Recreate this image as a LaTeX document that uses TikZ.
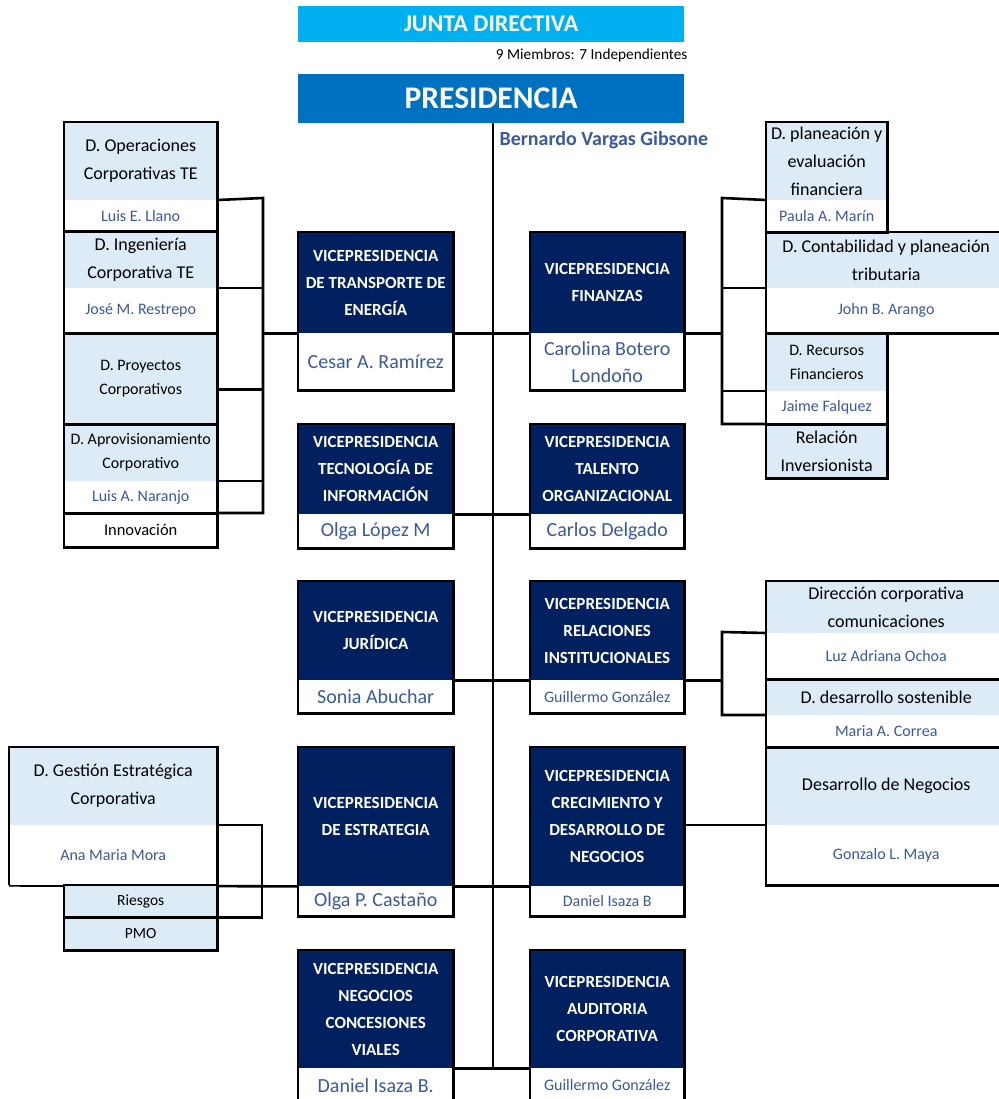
\documentclass[tikz,border=0pt]{standalone}
\usepackage{fontspec}
\setmainfont{Carlito}
\usetikzlibrary{calc,backgrounds}
\definecolor{navy}{RGB}{0,32,96}
\definecolor{juntac}{RGB}{0,176,240}
\definecolor{presc}{RGB}{0,112,192}
\definecolor{lightc}{RGB}{221,235,247}
\definecolor{namec}{RGB}{59,89,160}
\newcommand\fs[2]{\fontsize{#1}{#2}\selectfont}
\newcommand\cell[6]{\node[#1,anchor=north west,inner sep=0pt,minimum width=#4pt,minimum height=#5pt,align=center] (#2) at (#3) {#6};}
\tikzset{
  vpt/.style={fill=navy,text=white,font=\bfseries\fs{17}{27}},
  vpn/.style={fill=white,text=namec,font=\fs{20}{27}},
  vpns/.style={fill=white,text=namec,font=\fs{16}{20}},
  subt/.style={fill=lightc,text=black,font=\fs{18}{28}},
  subts/.style={fill=lightc,text=black,font=\fs{16}{24}},
  subn/.style={fill=white,text=namec,font=\fs{16}{20}},
  smallbox/.style={fill=lightc,text=black,font=\fs{15.5}{18}},
  bord/.style={draw=black,line width=2.6pt},
  conn/.style={draw=black,line width=2.6pt},
}
\begin{document}
\begin{tikzpicture}[x=1pt,y=-1pt]
\useasboundingbox (0,0) rectangle (998,1099);
% top
\cell{fill=juntac,text=white,font=\bfseries\fs{24}{26}}{junta}{298,6}{386}{36}{JUNTA DIRECTIVA}
\node[anchor=east,font=\fs{15.3}{17}] (miem) at (691,55) {9 Miembros: 7 Independientes};
\cell{fill=presc,text=white,font=\bfseries\fs{31.5}{33}}{pres}{298,74}{386}{49}{PRESIDENCIA}
\node[anchor=west,font=\bfseries\fs{20}{22},text=namec] (bv) at (496,140) {Bernardo Vargas Gibsone};
\coordinate (ctop) at (493,123);
\coordinate (cbot) at (493,1068);
% left sub boxes (transporte)
\cell{subt}{opT}{64,122}{153}{78}{D. Operaciones\\Corporativas TE}
\cell{subn}{opN}{64,200}{153}{31}{Luis E. Llano}
\cell{subt}{inT}{64,231}{153}{57}{D. Ingeniería\\Corporativa TE}
\cell{subn}{inN}{64,288}{153}{45}{José M. Restrepo}
\cell{subts}{prT}{64,333}{153}{91}{D. Proyectos\\Corporativos}
\cell{subts}{apT}{64,424}{153}{57}{D. Aprovisionamiento\\Corporativo}
\cell{subn}{apN}{64,481}{153}{32}{Luis A. Naranjo}
\cell{fill=white,font=\fs{16.5}{20}}{inv}{64,513}{153}{34}{Innovación}
% VP boxes
\cell{vpt}{vtT}{298,232}{155}{101}{VICEPRESIDENCIA\\DE TRANSPORTE DE\\ENERGÍA}
\cell{vpn}{vtN}{298,333}{155}{57}{Cesar A. Ramírez}
\cell{vpt}{vfT}{530,232}{154}{101}{VICEPRESIDENCIA\\FINANZAS}
\cell{vpn}{vfN}{530,333}{154}{57}{Carolina Botero\\Londoño}
\cell{vpt}{viT}{298,424}{155}{90}{VICEPRESIDENCIA\\TECNOLOGÍA DE\\INFORMACIÓN}
\cell{vpn}{viN}{298,514}{155}{34}{Olga López M}
\cell{vpt}{vgT}{530,424}{154}{90}{VICEPRESIDENCIA\\TALENTO\\ORGANIZACIONAL}
\cell{vpn}{vgN}{530,514}{154}{34}{Carlos Delgado}
\cell{vpt}{vjT}{298,581}{155}{99}{VICEPRESIDENCIA\\JURÍDICA}
\cell{vpn}{vjN}{298,680}{155}{33}{Sonia Abuchar}
\cell{vpt}{vrT}{530,581}{154}{99}{VICEPRESIDENCIA\\RELACIONES\\INSTITUCIONALES}
\cell{vpns}{vrN}{530,680}{154}{33}{Guillermo González}
\cell{vpt}{veT}{298,747}{155}{139}{VICEPRESIDENCIA\\DE ESTRATEGIA}
\cell{vpn}{veN}{298,886}{155}{30}{Olga P. Castaño}
\cell{vpt}{vcT}{530,747}{154}{139}{VICEPRESIDENCIA\\CRECIMIENTO Y\\DESARROLLO DE\\NEGOCIOS}
\cell{vpns}{vcN}{530,886}{154}{30}{Daniel Isaza B}
\cell{vpt}{vnT}{298,950}{155}{118}{VICEPRESIDENCIA\\NEGOCIOS\\CONCESIONES\\VIALES}
\cell{vpn}{vnN}{298,1068}{155}{40}{\raisebox{5pt}{Daniel Isaza B.}}
\cell{vpt}{vaT}{530,950}{154}{118}{VICEPRESIDENCIA\\AUDITORIA\\CORPORATIVA}
\cell{vpns}{vaN}{530,1068}{154}{40}{\raisebox{7pt}{Guillermo González}}
% right sub boxes (finanzas)
\cell{subt}{plT}{766,122}{121}{78}{D. planeación y\\evaluación\\financiera}
\cell{subn}{plN}{766,200}{121}{32}{Paula A. Marín}
\cell{subt}{coT}{766,232}{240}{56}{D. Contabilidad y planeación\\tributaria}
\cell{subn}{coN}{766,288}{240}{45}{John B. Arango}
\cell{subts}{reT}{766,333}{121}{58}{D. Recursos\\Financieros}
\cell{subn}{reN}{766,391}{121}{33}{Jaime Falquez}
\cell{subt}{riT}{766,424}{121}{54}{Relación\\Inversionista}
% right sub boxes (relaciones / crecimiento)
\cell{subt}{dcT}{766,581}{240}{52}{Dirección corporativa\\comunicaciones}
\cell{subn}{dcN}{766,633}{240}{46}{Luz Adriana Ochoa}
\cell{subt}{dsT}{766,679}{240}{36}{D. desarrollo sostenible}
\cell{subn}{dsN}{766,715}{240}{32}{Maria A. Correa}
\cell{subt}{dnT}{766,747}{240}{78}{Desarrollo de Negocios}
\cell{subn}{dnN}{766,825}{240}{60}{Gonzalo L. Maya}
% left sub boxes (estrategia)
\cell{subt}{geT}{9,747}{208}{78}{D. Gestión Estratégica\\Corporativa}
\cell{subn}{geN}{9,825}{208}{60}{Ana Maria Mora}
\cell{smallbox}{rg}{64,885}{153}{32}{Riesgos}
\cell{smallbox}{pm}{64,917}{153}{33}{PMO}
% bracket coordinates
\coordinate (bl1) at (263,198);
\coordinate (bl2) at (263,513);
\coordinate (br1) at (722,198);
\coordinate (br2) at (722,424);
\coordinate (br3) at (722,632);
\coordinate (bl3) at (262,825);
\coordinate (prtie) at ($(prT.east)+(0,11)$);
% connectors
\begin{pgfonlayer}{background}
\draw[conn] (ctop) -- (cbot);
\draw[conn] (opN.north east) -- (bl1) -- (bl2) -- (inv.north east);
\draw[conn] (inN.north east) -- (inN.north east -| bl1);
\draw[conn] (prtie) -- (prtie -| bl1);
\draw[conn] (apN.north east) -- (apN.north east -| bl1);
\draw[conn] (vtT.south west -| bl1) -- (vfT.south east -| br1);
\draw[conn] (plN.north west) -- (br1) -- (br2) -- (riT.north west);
\draw[conn] (coN.north west) -- (coN.north west -| br1);
\draw[conn] (reN.north west) -- (reN.north west -| br1);
\draw[conn] (viT.south east) -- (vgT.south west);
\draw[conn] (vjT.south east) -- (vjT.south east -| br3);
\draw[conn] (dcN.north west) -- (br3) -- (dsN.north west -| br3) -- (dsN.north west);
\draw[conn] (geN.south west) -- (veT.south west);
\draw[conn] (veT.south east) -- (vcT.south west);
\draw[conn] (vcT.east |- dnN.north west) -- (dnN.north west);
\draw[conn] (geN.north east) -- (bl3) -- (bl3 |- rg.south east) -- (rg.south east);
\draw[conn] (vnT.south east) -- (vaT.south west);
\end{pgfonlayer}
% borders
\foreach \a/\b in {opT/opN,inT/inN,prT/prT,apT/apN,inv/inv,vtT/vtN,vfT/vfN,viT/viN,vgT/vgN,vjT/vjN,vrT/vrN,veT/veN,vcT/vcN,vnT/vnN,vaT/vaN,plT/plN,coT/coN,reT/reN,riT/riT,dcT/dcN,dsT/dsN,dnT/dnN,rg/rg,pm/pm}
  \draw[bord] (\a.north west) rectangle (\b.south east);
\draw[bord] (geN.south west) -- (geT.north west) -- (geT.north east) -- (geN.south east);
\end{tikzpicture}
\end{document}
